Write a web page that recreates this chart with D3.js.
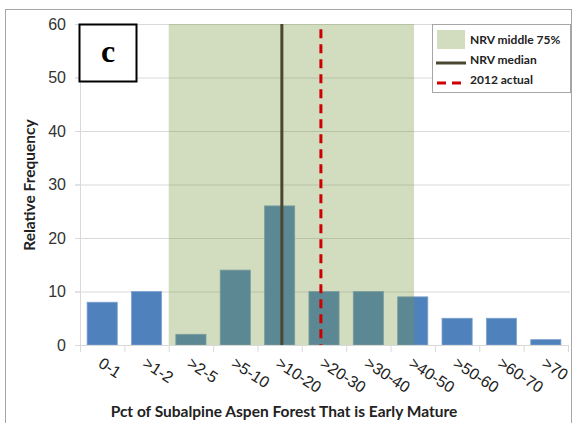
<!DOCTYPE html>
<html>
<head>
<meta charset="utf-8">
<script src="https://cdn.jsdelivr.net/npm/d3@7"></script>
<style>
  body { margin: 0; background: #fff; }
  svg { display: block; font-family: Lato, "Open Sans", sans-serif; }
</style>
</head>
<body>
<div id="chart"></div>
<script>
const categories = ["0-1", ">1-2", ">2-5", ">5-10", ">10-20", ">20-30", ">30-40", ">40-50", ">50-60", ">60-70", ">70"];
const frequency = [8, 10, 2, 14, 26, 10, 10, 9, 5, 5, 1];
const yTicks = [0, 10, 20, 30, 40, 50, 60];
// NRV range and markers in category index units (band positions)
const nrvRange = [2.0, 7.53];
const nrvMedian = 4.55;
const actual2012 = 5.43;
const legendItems = ["NRV middle 75%", "NRV median", "2012 actual"];

const W = 572, H = 423;
const margin = { top: 24, right: 4, bottom: 78, left: 80 };
const width = 568 - margin.left;
const height = 345 - margin.top;

const svg = d3.select("#chart").append("svg")
  .attr("width", W)
  .attr("height", H);

// outer frame
svg.append("rect")
  .attr("x", 5.5).attr("y", 9.5)
  .attr("width", 566).attr("height", 420)
  .attr("fill", "none")
  .attr("stroke", "#a6a6a6");

const g = svg.append("g")
  .attr("transform", "translate(" + margin.left + "," + margin.top + ")");

const x = d3.scaleBand()
  .domain(categories)
  .range([0, width])
  .paddingInner(0.32)
  .paddingOuter(0.16);

const y = d3.scaleLinear()
  .domain([0, 60])
  .range([height, 0]);

// continuous position across bands
const xPos = d3.scaleLinear()
  .domain([0, categories.length])
  .range([0, width]);

// gridlines
g.append("g")
  .selectAll("line")
  .data(yTicks.filter(d => d > 0))
  .join("line")
  .attr("x1", -5).attr("x2", width + 2)
  .attr("y1", d => y(d) + 0.5).attr("y2", d => y(d) + 0.5)
  .attr("stroke", "#d9d9d9");

// bars
g.append("g")
  .selectAll("rect")
  .data(frequency)
  .join("rect")
  .attr("x", (d, i) => x(categories[i]))
  .attr("y", d => y(d))
  .attr("width", x.bandwidth())
  .attr("height", d => y(0) - y(d))
  .attr("fill", "#4f81bd")
  .attr("stroke", "#7fa3d0")
  .attr("stroke-width", 0.8);

// NRV shaded region (drawn over the bars, semi-transparent)
g.append("rect")
  .attr("x", xPos(nrvRange[0]))
  .attr("y", y(60))
  .attr("width", xPos(nrvRange[1]) - xPos(nrvRange[0]))
  .attr("height", y(0) - y(60))
  .attr("fill", "rgb(121,150,63)")
  .attr("fill-opacity", 0.335);

// median line
g.append("line")
  .attr("x1", xPos(nrvMedian)).attr("x2", xPos(nrvMedian))
  .attr("y1", y(60)).attr("y2", y(0))
  .attr("stroke", "#4a4630")
  .attr("stroke-width", 3);

// 2012 actual line
g.append("line")
  .attr("x1", xPos(actual2012)).attr("x2", xPos(actual2012))
  .attr("y1", y(59)).attr("y2", y(0))
  .attr("stroke", "#cc0000")
  .attr("stroke-width", 3)
  .attr("stroke-dasharray", "9,6");

// y axis
const yAxis = g.append("g")
  .call(d3.axisLeft(y).tickValues(yTicks).tickSize(5).tickPadding(9));
yAxis.select(".domain").attr("stroke", "#d9d9d9").attr("d", "M0.5,0V" + height);
yAxis.selectAll(".tick line").attr("stroke", "#d9d9d9");
yAxis.selectAll("text")
  .attr("fill", "#333")
  .style("font-size", "16px");

// x axis
const xAxis = g.append("g")
  .attr("transform", "translate(0," + height + ")")
  .call(d3.axisBottom(x).tickSize(0).tickPadding(0));
xAxis.select(".domain").attr("stroke", "#d9d9d9");
xAxis.selectAll(".tick line").remove();
xAxis.append("g")
  .selectAll("line")
  .data(d3.range(categories.length + 1))
  .join("line")
  .attr("x1", d => xPos(d) + 0.5).attr("x2", d => xPos(d) + 0.5)
  .attr("y1", 0).attr("y2", 7)
  .attr("stroke", "#d9d9d9");
xAxis.selectAll(".tick text")
  .attr("fill", "#222")
  .style("font-size", "16px")
  .attr("text-anchor", "start")
  .attr("dy", 0)
  .attr("transform", "translate(-5,21) rotate(33)");

// axis titles
svg.append("text")
  .attr("transform", "translate(35," + 185 + ") rotate(-90)")
  .attr("text-anchor", "middle")
  .style("font-size", "15.5px")
  .style("font-weight", "bold")
  .attr("fill", "#222")
  .text("Relative Frequency");

svg.append("text")
  .attr("x", 284)
  .attr("y", 417)
  .attr("text-anchor", "middle")
  .style("font-size", "15.5px")
  .style("font-weight", "bold")
  .attr("fill", "#222")
  .text("Pct of Subalpine Aspen Forest That is Early Mature");

// panel label box
svg.append("rect")
  .attr("x", 79.5).attr("y", 24.5)
  .attr("width", 57).attr("height", 57)
  .attr("fill", "#fff")
  .attr("stroke", "#000")
  .attr("stroke-width", 2);
svg.append("text")
  .attr("x", 108).attr("y", 62)
  .attr("text-anchor", "middle")
  .style("font-family", "'Liberation Serif', serif")
  .style("font-weight", "bold")
  .style("font-size", "32px")
  .text("c");

// legend
const lg = svg.append("g").attr("transform", "translate(432,24)");
lg.append("rect")
  .attr("x", 0.5).attr("y", 0.5)
  .attr("width", 138).attr("height", 68)
  .attr("fill", "#fff")
  .attr("stroke", "#a6a6a6");
lg.append("rect")
  .attr("x", 5).attr("y", 6)
  .attr("width", 28).attr("height", 19)
  .attr("fill", "rgb(121,150,63)")
  .attr("fill-opacity", 0.335);
lg.append("line")
  .attr("x1", 4).attr("x2", 34)
  .attr("y1", 39).attr("y2", 39)
  .attr("stroke", "#4a4630").attr("stroke-width", 3);
lg.append("line")
  .attr("x1", 5).attr("x2", 34)
  .attr("y1", 59).attr("y2", 59)
  .attr("stroke", "#cc0000").attr("stroke-width", 3)
  .attr("stroke-dasharray", "9,6");
lg.selectAll("text.item")
  .data(legendItems)
  .join("text")
  .attr("class", "item")
  .attr("x", 38)
  .attr("y", (d, i) => 20 + i * 20)
  .style("font-size", "12px")
  .style("font-weight", "bold")
  .attr("fill", "#222")
  .text(d => d);
</script>
</body>
</html>
